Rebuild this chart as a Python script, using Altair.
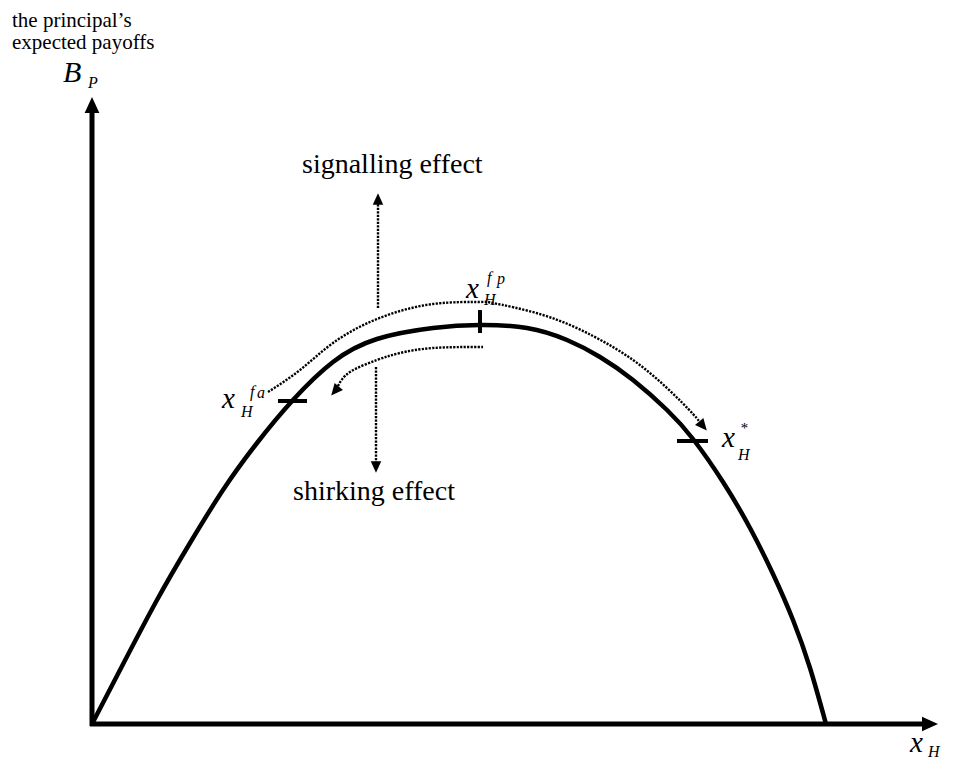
import altair as alt
import pandas as pd

# ---- data (diagram units: origin at the axes' intersection, 1 unit ~ 1 px) ----
curve_x = [0, 28, 65, 98, 131, 165, 201, 241, 285, 341, 388, 435, 475, 508, 541, 575, 601, 631, 658, 681, 701, 718, 734]
curve_y = [0, 54, 124, 181, 234, 281, 324, 362, 385, 396, 399, 396, 384, 367, 344, 314, 285, 242, 196, 150, 104, 56, 0]

upper_arc_x = [176, 208, 241, 285, 341, 388, 401, 451, 501, 541, 575, 601, 609]
upper_arc_y = [332, 354, 381, 405, 420, 422, 421, 409, 388, 364, 336, 310, 300]

lower_arc_x = [391, 341, 308, 285, 258, 246]
lower_arc_y = [377, 376, 371, 364, 352, 338]

# vertical effect arrows: x, y_start, y_end
effect_x = [286, 284]
effect_y1 = [416, 357]
effect_y2 = [520, 262]

# axis lines
axis_x1 = [0, -2]
axis_x2 = [0, 830]
axis_y1 = [-2, 0]
axis_y2 = [611, 0]

# tick marks on the curve: (x1, x2, y1, y2)
tick_x1 = [186, 388, 585]
tick_x2 = [215, 388, 616]
tick_y1 = [323, 391, 283]
tick_y2 = [323, 414, 283]

# arrowheads: centre x, centre y, rotation, size
head_x = [0, 838, 286, 284, 611, 243]
head_y = [619, 0, 525, 257, 298, 333]
head_angle = [0, 90, 0, 180, 140, 220]
head_size = [256, 256, 130, 130, 140, 140]

# plain text labels
plain_text = ["the principal\u2019s", "expected payoffs", "signalling effect", "shirking effect"]
plain_x = [-80, -80, 210, 201]
plain_y = [697, 675, 551, 224]
plain_size = [21, 21, 28, 28]

# italic math labels
math_text = ["B", "P", "x", "H", "f", "a", "x", "H", "f", "p", "x", "*", "H", "x", "H"]
math_x = [-29, -4, 130, 149, 158, 165, 374, 392, 395, 405, 630, 648, 646, 818, 836]
math_y = [642, 636, 316, 307, 327, 326, 426, 419, 441, 440, 277, 291, 264, -28, -33]
math_size = [30, 16, 29, 16, 16, 16, 29, 16, 16, 16, 29, 15, 16, 29, 16]

FONT = "Liberation Serif"
W, H = 938, 753
X_DOM = [-84, 854]
Y_DOM = [-37, 716]

xs = alt.Scale(domain=X_DOM, nice=False, zero=False)
ys = alt.Scale(domain=Y_DOM, nice=False, zero=False)


def X(f="x"):
    return alt.X(f"{f}:Q", scale=xs, axis=None)


def Y(f="y"):
    return alt.Y(f"{f}:Q", scale=ys, axis=None)


curve_df = pd.DataFrame({"x": curve_x, "y": curve_y})
upper_df = pd.DataFrame({"x": upper_arc_x, "y": upper_arc_y})
lower_df = pd.DataFrame({"x": lower_arc_x, "y": lower_arc_y})
eff_df = pd.DataFrame({"x": effect_x, "y": effect_y1, "y2": effect_y2})
axis_df = pd.DataFrame({"x": axis_x1, "x2": axis_x2, "y": axis_y1, "y2": axis_y2})
tick_df = pd.DataFrame({"x": tick_x1, "x2": tick_x2, "y": tick_y1, "y2": tick_y2})
head_df = pd.DataFrame({"x": head_x, "y": head_y, "a": head_angle, "s": head_size})
plain_df = pd.DataFrame({"t": plain_text, "x": plain_x, "y": plain_y, "s": plain_size})
math_df = pd.DataFrame({"t": math_text, "x": math_x, "y": math_y, "s": math_size})

axes = alt.Chart(axis_df).mark_rule(color="black", strokeWidth=5).encode(
    x=X(), x2="x2:Q", y=Y(), y2="y2:Q"
)

curve = alt.Chart(curve_df).mark_line(
    color="black", strokeWidth=4.5, interpolate="natural"
).encode(x=X(), y=Y())

dots = dict(color="black", strokeWidth=2.4, strokeDash=[2.2, 1.3])
upper = alt.Chart(upper_df).mark_line(interpolate="natural", **dots).encode(x=X(), y=Y())
lower = alt.Chart(lower_df).mark_line(interpolate="natural", **dots).encode(x=X(), y=Y())
effects = alt.Chart(eff_df).mark_rule(**dots).encode(x=X(), y=Y(), y2="y2:Q")

ticks = alt.Chart(tick_df).mark_rule(color="black", strokeWidth=4).encode(
    x=X(), x2="x2:Q", y=Y(), y2="y2:Q"
)

heads = alt.Chart(head_df).mark_point(
    shape="M0,-1L0.92,1L-0.92,1Z", filled=True, color="black", opacity=1, strokeWidth=0
).encode(
    x=X(), y=Y(),
    angle=alt.Angle("a:Q", scale=None),
    size=alt.Size("s:Q", scale=None),
)

plain = alt.Chart(plain_df).mark_text(
    font=FONT, align="left", baseline="alphabetic", color="black"
).encode(x=X(), y=Y(), text="t:N", size=alt.Size("s:Q", scale=None))

math = alt.Chart(math_df).mark_text(
    font=FONT, fontStyle="italic", align="left", baseline="alphabetic", color="black"
).encode(x=X(), y=Y(), text="t:N", size=alt.Size("s:Q", scale=None))

chart = alt.layer(axes, curve, upper, lower, effects, ticks, heads, plain, math).properties(
    width=W, height=H, padding=0, autosize=alt.AutoSizeParams(type="none")
).configure(background="white", view=alt.ViewConfig(stroke=None))

chart.save("out.html", embed_options={"renderer": "svg", "actions": False})
